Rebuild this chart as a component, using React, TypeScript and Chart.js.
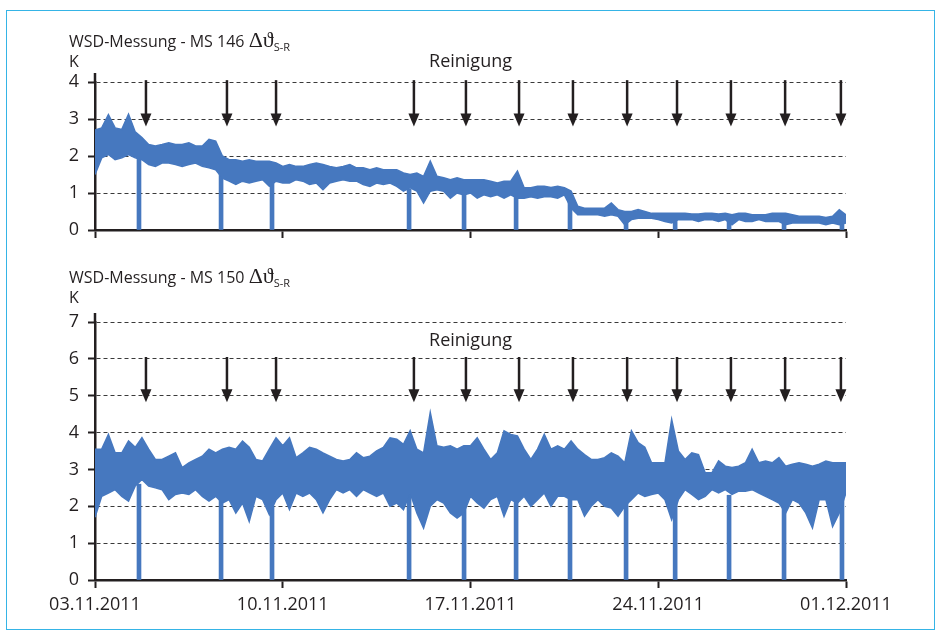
import React, { useEffect, useRef } from "react";
import { Chart, registerables } from "chart.js";

Chart.register(...registerables);

// ---- data (days since 03.11.2011, sampled every 0.25 day) ----
const STEP_DAYS = 0.25;
const tickLabels = ["03.11.2011", "10.11.2011", "17.11.2011", "24.11.2011", "01.12.2011"];
const cleaningArrowDays = [1.9, 4.92, 6.75, 11.89, 13.83, 15.81, 17.82, 19.84, 21.7, 23.71, 25.73, 27.81];
const dropDays = [1.64, 4.7, 6.6, 11.71, 13.76, 15.7, 17.71, 19.8, 21.63, 23.64, 25.69, 27.85];

const ms146Upper = [
  2.70, 2.76, 3.12, 2.76, 2.72, 3.13, 2.65, 2.50,
  2.31, 2.27, 2.31, 2.36, 2.31, 2.31, 2.36, 2.27,
  2.27, 2.45, 2.40, 2.00, 1.90, 1.90, 1.86, 1.90,
  1.86, 1.86, 1.86, 1.81, 1.72, 1.77, 1.72, 1.72,
  1.77, 1.81, 1.77, 1.72, 1.68, 1.72, 1.77, 1.68,
  1.68, 1.63, 1.68, 1.63, 1.63, 1.63, 1.54, 1.50,
  1.54, 1.45, 1.86, 1.45, 1.41, 1.36, 1.41, 1.36,
  1.36, 1.36, 1.36, 1.32, 1.27, 1.32, 1.32, 1.59,
  1.14, 1.14, 1.18, 1.18, 1.15, 1.18, 1.14, 1.05,
  0.64, 0.59, 0.59, 0.59, 0.59, 0.73, 0.55, 0.50,
  0.50, 0.55, 0.50, 0.45, 0.45, 0.45, 0.45, 0.45,
  0.45, 0.43, 0.43, 0.45, 0.45, 0.43, 0.45, 0.41,
  0.45, 0.45, 0.41, 0.41, 0.41, 0.45, 0.45, 0.45,
  0.41, 0.37, 0.37, 0.37, 0.37, 0.34, 0.37, 0.55,
  0.41,
];
const ms146Lower = [
  1.50, 1.95, 2.04, 1.90, 1.95, 2.04, 1.95, 1.90,
  1.77, 1.72, 1.81, 1.81, 1.77, 1.72, 1.77, 1.81,
  1.72, 1.68, 1.63, 1.40, 1.32, 1.23, 1.32, 1.27,
  1.32, 1.36, 1.18, 1.32, 1.27, 1.27, 1.36, 1.32,
  1.23, 1.27, 1.09, 1.27, 1.32, 1.36, 1.32, 1.32,
  1.23, 1.18, 1.27, 1.23, 1.27, 1.18, 1.05, 1.14,
  1.05, 0.73, 1.05, 1.09, 1.05, 0.86, 1.00, 0.95,
  1.00, 0.86, 0.95, 0.90, 0.95, 0.86, 0.95, 0.86,
  0.86, 0.90, 0.86, 0.90, 0.90, 0.86, 0.95, 0.59,
  0.41, 0.41, 0.41, 0.41, 0.37, 0.41, 0.37, 0.14,
  0.28, 0.32, 0.32, 0.32, 0.28, 0.23, 0.19, 0.28,
  0.28, 0.28, 0.23, 0.28, 0.28, 0.23, 0.28, 0.14,
  0.28, 0.23, 0.23, 0.28, 0.23, 0.23, 0.23, 0.14,
  0.19, 0.19, 0.19, 0.19, 0.19, 0.14, 0.19, 0.14,
  0.19,
];
const ms146DropLevels = [2.0, 1.6, 1.3, 1.1, 1.0, 0.9, 1.0, 0.3, 0.3, 0.3, 0.3, 0.3];

const ms150Upper = [
  3.55, 3.55, 3.95, 3.45, 3.45, 3.77, 3.60, 3.86,
  3.55, 3.27, 3.27, 3.36, 3.45, 3.05, 3.18, 3.27,
  3.36, 3.55, 3.45, 3.55, 3.60, 3.55, 3.77, 3.60,
  3.27, 3.23, 3.55, 3.86, 3.64, 3.86, 3.32, 3.45,
  3.60, 3.55, 3.45, 3.36, 3.27, 3.23, 3.27, 3.45,
  3.32, 3.36, 3.50, 3.60, 3.86, 3.82, 3.68, 4.05,
  3.55, 3.45, 4.55, 3.64, 3.60, 3.64, 3.55, 3.64,
  3.64, 3.86, 3.55, 3.27, 3.45, 4.05, 3.95, 3.91,
  3.55, 3.27, 3.55, 3.95, 3.55, 3.64, 3.55, 3.77,
  3.55, 3.40, 3.27, 3.27, 3.32, 3.45, 3.36, 3.18,
  4.05, 3.73, 3.60, 3.18, 3.18, 3.18, 4.36, 3.50,
  3.27, 3.45, 3.40, 2.91, 2.91, 3.23, 3.09, 3.05,
  3.09, 3.18, 3.55, 3.18, 3.23, 3.18, 3.32, 3.09,
  3.14, 3.18, 3.14, 3.09, 3.14, 3.23, 3.18, 3.18,
  3.18,
];
const ms150Lower = [
  1.70, 2.27, 2.36, 2.45, 2.27, 2.14, 2.55, 2.73,
  2.55, 2.50, 2.45, 2.18, 2.32, 2.36, 2.32, 2.45,
  2.27, 2.14, 2.27, 2.09, 2.18, 1.82, 2.09, 1.59,
  2.27, 2.18, 1.77, 2.18, 2.36, 1.91, 2.36, 2.27,
  2.36, 2.18, 1.82, 2.18, 2.45, 2.36, 2.45, 2.27,
  2.45, 2.36, 2.27, 2.36, 2.00, 2.09, 1.91, 2.36,
  1.82, 1.41, 2.00, 2.18, 2.09, 1.82, 1.68, 1.82,
  2.27, 2.09, 1.95, 2.18, 2.27, 1.73, 2.18, 2.09,
  2.27, 2.00, 2.18, 2.36, 2.00, 2.27, 2.27, 2.18,
  2.18, 1.73, 2.00, 2.18, 2.00, 1.95, 1.73, 2.00,
  2.18, 2.36, 2.27, 2.32, 2.36, 2.18, 1.64, 2.18,
  2.45, 2.32, 2.18, 2.27, 2.45, 2.36, 2.45, 2.32,
  2.41, 2.41, 2.45, 2.36, 2.27, 2.18, 2.09, 1.82,
  2.18, 2.09, 1.82, 1.41, 2.18, 2.18, 1.45, 1.82,
  2.36,
];
const ms150DropLevels = [2.6, 2.2, 2.0, 2.3, 2.2, 2.2, 2.4, 2.3, 2.2, 2.3, 2.2, 2.2];

// ---- styling ----
const BLUE = "#4678bf";
const INK = "#231f20";
const FONT = "'Open Sans', 'Noto Sans', sans-serif";

const toPoints = (values: number[]) => values.map((v, i) => ({ x: i * STEP_DAYS, y: v }));

const reinigungPlugin = {
  id: "reinigung",
  afterDatasetsDraw(chart: any, _args: any, opts: any) {
    const { ctx, scales, chartArea } = chart;
    const x = scales.x;
    const y = scales.y;
    ctx.save();
    ctx.fillStyle = INK;
    ctx.strokeStyle = INK;
    // short extension of the y axis above the plot
    ctx.lineWidth = 2.5;
    ctx.beginPath();
    ctx.moveTo(chartArea.left, chartArea.top - 9);
    ctx.lineTo(chartArea.left, chartArea.top);
    ctx.stroke();
    for (const d of opts.days) {
      const px = x.getPixelForValue(d);
      const top = y.getPixelForValue(opts.from);
      const tip = y.getPixelForValue(opts.to);
      ctx.lineWidth = 2.5;
      ctx.beginPath();
      ctx.moveTo(px, top);
      ctx.lineTo(px, tip - 8);
      ctx.stroke();
      ctx.beginPath();
      ctx.moveTo(px - 5.5, tip - 13);
      ctx.lineTo(px + 5.5, tip - 13);
      ctx.lineTo(px, tip);
      ctx.closePath();
      ctx.fill();
    }
    ctx.font = `18px ${FONT}`;
    ctx.textAlign = "center";
    ctx.textBaseline = "middle";
    ctx.fillText(opts.label, x.getPixelForValue(opts.labelDay), y.getPixelForValue(opts.labelY));
    ctx.restore();
  },
};

type PanelDef = {
  upper: number[];
  lower: number[];
  dropLevels: number[];
  yMax: number;
  showLabels: boolean;
  xHeight: number;
  padTop: number;
  arrowFrom: number;
  arrowTo: number;
  labelY: number;
};

function makeConfig(p: PanelDef): any {
  return {
    type: "line",
    data: {
      datasets: [
        {
          data: toPoints(p.upper),
          borderColor: BLUE,
          backgroundColor: BLUE,
          borderWidth: 1.5,
          pointRadius: 0,
          fill: "+1",
          tension: 0,
        },
        {
          data: toPoints(p.lower),
          borderColor: BLUE,
          backgroundColor: BLUE,
          borderWidth: 1.5,
          pointRadius: 0,
          fill: false,
          tension: 0,
        },
        {
          type: "bar",
          data: dropDays.map((d, i) => ({ x: d, y: p.dropLevels[i] })),
          backgroundColor: BLUE,
          barThickness: 4,
        },
      ],
    },
    options: {
      responsive: false,
      animation: false,
      events: [],
      layout: { padding: { top: p.padTop, left: 0, right: 92, bottom: 0 } },
      plugins: {
        legend: { display: false },
        tooltip: { enabled: false },
        reinigung: {
          days: cleaningArrowDays,
          from: p.arrowFrom,
          to: p.arrowTo,
          label: "Reinigung",
          labelDay: 14,
          labelY: p.labelY,
        },
      },
      scales: {
        x: {
          type: "linear",
          min: 0,
          max: 28,
          offset: false,
          afterFit: (s: any) => {
            s.height = p.xHeight;
          },
          ticks: {
            stepSize: 7,
            autoSkip: false,
            maxRotation: 0,
            display: p.showLabels,
            padding: 6,
            color: INK,
            font: { size: 18, family: FONT },
            callback: (v: number) => tickLabels[Math.round(v / 7)],
          },
          grid: {
            display: true,
            offset: false,
            drawOnChartArea: false,
            drawTicks: true,
            tickLength: 8,
            tickColor: INK,
            tickWidth: 2,
          },
          border: { display: true, color: INK, width: 2.5 },
        },
        y: {
          type: "linear",
          min: 0,
          max: p.yMax,
          z: 1,
          afterFit: (s: any) => {
            s.width = 95;
          },
          ticks: {
            stepSize: 1,
            padding: 9,
            color: INK,
            font: { size: 18, family: FONT },
          },
          grid: {
            color: "#3a3a3a",
            lineWidth: 1,
            drawTicks: true,
            tickLength: 7,
            tickColor: INK,
            tickWidth: 2,
            tickBorderDash: [],
          },
          border: { display: true, color: INK, width: 2.5, dash: [4, 3] },
        },
      },
    },
    plugins: [reinigungPlugin],
  };
}

function Panel({ def, top, height }: { def: PanelDef; top: number; height: number }) {
  const ref = useRef<HTMLCanvasElement | null>(null);
  useEffect(() => {
    if (!ref.current) return;
    const chart = new Chart(ref.current, makeConfig(def));
    return () => chart.destroy();
  }, []);
  return (
    <canvas
      ref={ref}
      width={938}
      height={height}
      style={{ position: "absolute", left: 0, top, width: 938, height }}
    />
  );
}

function Title({ id, top }: { id: string; top: number }) {
  return (
    <div
      style={{
        position: "absolute",
        left: 69,
        top,
        fontFamily: FONT,
        fontSize: 16,
        lineHeight: "18px",
        color: INK,
        whiteSpace: "nowrap",
      }}
    >
      WSD-Messung - MS {id}{" "}
      <span style={{ fontFamily: "'Liberation Serif', 'DejaVu Serif', serif", fontSize: 22, lineHeight: "18px" }}>
        Δϑ
      </span>
      <span style={{ fontSize: 11, lineHeight: "10px", position: "relative", top: 4 }}>S-R</span>
    </div>
  );
}

function Unit({ top }: { top: number }) {
  return (
    <div
      style={{
        position: "absolute",
        left: 69,
        top,
        fontFamily: FONT,
        fontSize: 16,
        lineHeight: "18px",
        color: INK,
      }}
    >
      K
    </div>
  );
}

const topPanel: PanelDef = {
  upper: ms146Upper,
  lower: ms146Lower,
  dropLevels: ms146DropLevels,
  yMax: 4,
  showLabels: false,
  xHeight: 20,
  padTop: 82,
  arrowFrom: 4.05,
  arrowTo: 2.8,
  labelY: 4.54,
};

const bottomPanel: PanelDef = {
  upper: ms150Upper,
  lower: ms150Lower,
  dropLevels: ms150DropLevels,
  yMax: 7,
  showLabels: true,
  xHeight: 53,
  padTop: 72,
  arrowFrom: 6.05,
  arrowTo: 4.82,
  labelY: 6.48,
};

export default function App() {
  return (
    <div style={{ position: "absolute", left: 0, top: 0, width: 938, height: 633, background: "#fff", overflow: "hidden" }}>
      <div
        style={{
          position: "absolute",
          left: 6,
          top: 10,
          width: 929,
          height: 620,
          border: "1.5px solid #35b4e6",
          boxSizing: "border-box",
        }}
      />
      <Panel def={topPanel} top={0} height={250} />
      <Panel def={bottomPanel} top={250} height={383} />
      <Title id="146" top={31} />
      <Unit top={52} />
      <Title id="150" top={267} />
      <Unit top={288} />
    </div>
  );
}
